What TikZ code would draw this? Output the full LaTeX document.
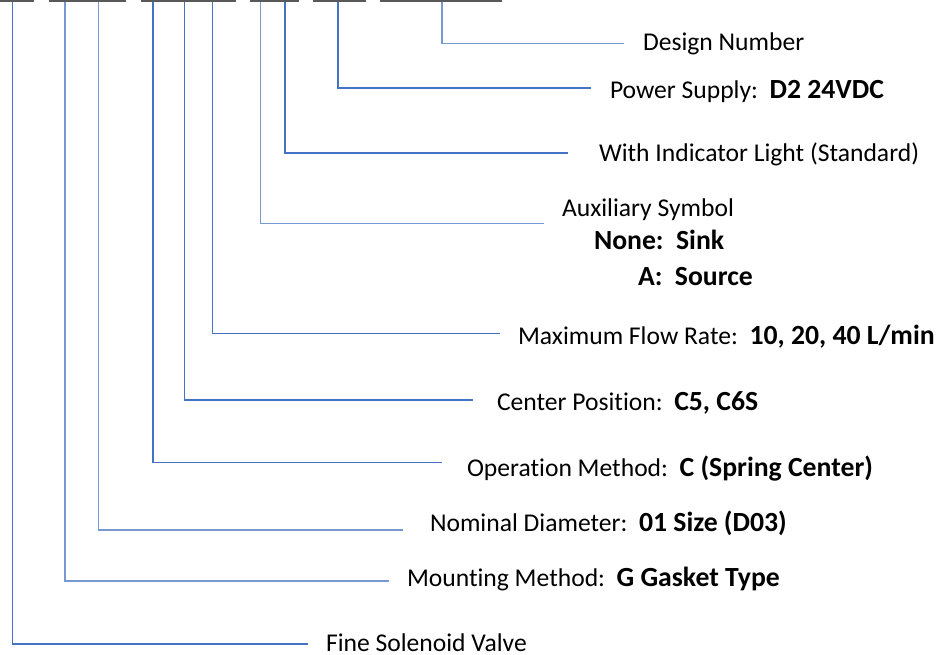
\documentclass[tikz,border=0pt]{standalone}
\usepackage{fontspec}
\setmainfont{Carlito}[Ligatures={NoCommon,NoRequired,NoContextual}]
\newcommand{\bval}[1]{{\bfseries\fontsize{27.7}{30}\selectfont #1}}
\definecolor{bardark}{RGB}{89,89,89}
\definecolor{blueA}{RGB}{68,114,196}
\definecolor{blueB}{RGB}{120,152,212}
\tikzset{
  lnk/.style={draw=blueA,line width=1.5pt},
  lnkl/.style={draw=blueB,line width=1.5pt},
  lbl/.style={anchor=base west,inner sep=0pt,outer sep=0pt,font=\fontsize{25.6}{30}\selectfont},
  topbar/.style={fill=bardark}
}
\begin{document}
\begin{tikzpicture}[x=1pt,y=-1pt]
\useasboundingbox (0,0) rectangle (942,654);
% top bars
\fill[topbar] (0,0) rectangle (34,1.8);
\fill[topbar] (49,0) rectangle (126,1.8);
\fill[topbar] (141,0) rectangle (236,1.8);
\fill[topbar] (250,0) rectangle (299,1.8);
\fill[topbar] (313,0) rectangle (366,1.8);
\fill[topbar] (380,0) rectangle (502,1.8);
% tops of leaders
\coordinate (t1) at (12.3,2);
\coordinate (t2) at (65,2);
\coordinate (t3) at (98.7,2);
\coordinate (t4) at (153,2);
\coordinate (t5) at (184.7,2);
\coordinate (t6) at (212.7,2);
\coordinate (t7) at (260.7,2);
\coordinate (t8) at (285,2);
\coordinate (t9) at (338,2);
\coordinate (t10) at (442,2);
% ends of leaders
\coordinate (e1) at (308,644);
\coordinate (e2) at (389,581);
\coordinate (e3) at (403,530);
\coordinate (e4) at (442,462.7);
\coordinate (e5) at (473,400);
\coordinate (e6) at (500,333.7);
\coordinate (e7) at (544,223.7);
\coordinate (e8) at (568,153);
\coordinate (e9) at (591,88);
\coordinate (e10) at (624,43.7);
% labels
\node[lbl] (l10) at (643,50.7) {Design Number};
\node[lbl] (l9) at (610,98.5) {Power Supply:\ \ \bval{D2 24VDC}};
\node[lbl] (l8) at (599,161) {With Indicator Light (Standard)};
\node[lbl] (l7) at (562,216.7) {Auxiliary Symbol};
\node[lbl] (l7b) at (594,249.3) {\bval{None:\ \ Sink}};
\node[lbl] (l7c) at (638,285) {\bval{A:\ \ Source}};
\node[lbl] (l6) at (518,344) {Maximum Flow Rate:\ \ \bval{10, 20, 40 L/min}};
\node[lbl] (l5) at (497,410.7) {Center Position:\ \ \bval{C5, C6S}};
\node[lbl] (l4) at (467,476.7) {Operation Method:\ \ \bval{C (Spring Center)}};
\node[lbl] (l3) at (430,531.7) {Nominal Diameter:\ \ \bval{01 Size (D03)}};
\node[lbl] (l2) at (407,586.7) {Mounting Method:\ \ \bval{G Gasket Type}};
\node[lbl] (l1) at (326,651.3) {Fine Solenoid Valve};
% leaders
\draw[lnk] (t1) |- (e1);
\draw[lnkl] (t2) |- (e2);
\draw[lnkl] (t3) |- (e3);
\draw[lnk] (t4) |- (e4);
\draw[lnk] (t5) |- (e5);
\draw[lnk] (t6) |- (e6);
\draw[lnkl] (t7) |- (e7);
\draw[lnk] (t8) |- (e8);
\draw[lnk] (t9) |- (e9);
\draw[lnkl] (t10) |- (e10);
\end{tikzpicture}
\end{document}
